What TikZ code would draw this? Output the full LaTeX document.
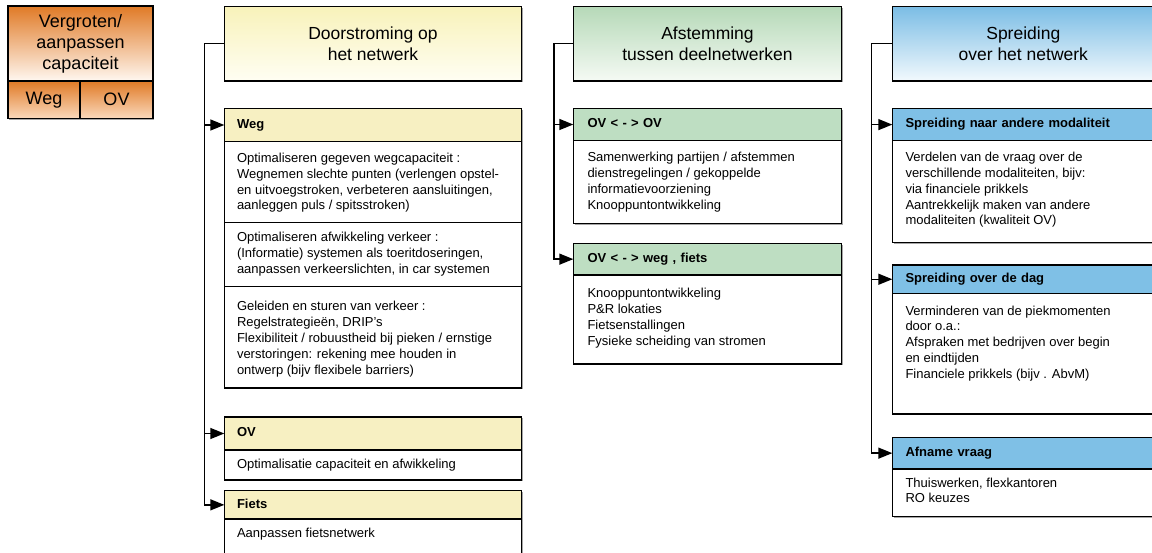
\documentclass[tikz,border=0pt]{standalone}
\usepackage{fontspec}
\setmainfont{Liberation Sans}
\usetikzlibrary{arrows.meta,shadows}
\definecolor{ylw}{HTML}{F7F0C2}
\definecolor{ylwtop}{HTML}{F8F2BA}
\definecolor{ylwbot}{HTML}{FFFEF3}
\definecolor{grn}{HTML}{BEDEC2}
\definecolor{grntop}{HTML}{B6D9B8}
\definecolor{grnbot}{HTML}{F5FAF4}
\definecolor{blu}{HTML}{7FC0E6}
\definecolor{blutop}{HTML}{7BBDE5}
\definecolor{blubot}{HTML}{F2F9FD}
\definecolor{orgtop}{HTML}{E07A26}
\definecolor{orgbot}{HTML}{FFF7F0}
\definecolor{orgcbot}{HTML}{FAD9BC}
\newcommand\mlines[1]{\vtop{\halign{##\hfil\cr#1\crcr}}}
\tikzset{
  frame/.style={draw=black, line width=1.3pt, rectangle, inner sep=0pt, outer sep=0pt,
    anchor=north west, drop shadow={shadow xshift=1.3pt, shadow yshift=-1.3pt, fill=black!35, opacity=1}},
  hdr/.style={frame, align=center, font=\fontsize{17.5}{21.5}\selectfont},
  bandbox/.style={frame, align=left, font=\fontsize{13}{15.8}\selectfont\bfseries,
    text height=9.5pt, text depth=2.7pt},
  c1band/.style={bandbox, fill=ylw, inner xsep=12.7pt, text width=272pt},
  c2band/.style={bandbox, fill=grn, inner xsep=14.2pt, text width=240pt},
  c3band/.style={bandbox, fill=blu, inner xsep=13.2pt, text width=235.6pt},
  sect/.style={frame, fill=white},
  txt/.style={font=\fontsize{13}{15.8}\selectfont, inner sep=0pt, outer sep=0pt, anchor=base west},
  conn/.style={line width=1.4pt, draw=black, -{Triangle[length=14pt,width=11pt,fill=black]}},
  ttl/.style={frame, align=center, font=\fontsize{18}{21}\selectfont}
}
\begin{document}
\begin{tikzpicture}[x=1pt,y=-1pt]
\useasboundingbox (0,0) rectangle (1152,553);

% title box
\node[ttl, top color=orgtop, bottom color=orgbot, minimum width=145pt, minimum height=75pt] (title) at (8,6) {Vergroten/\\aanpassen\\capaciteit};
\node[ttl, top color=orgtop, bottom color=orgcbot, minimum width=72pt, minimum height=37.5pt] (tweg) at (8,81) {Weg};
\node[ttl, top color=orgtop, bottom color=orgcbot, minimum width=73pt, minimum height=37.5pt] (tov) at (80,81) {OV};

% headers
\node[hdr, top color=ylwtop, bottom color=ylwbot, minimum width=297.4pt, minimum height=74.5pt] (h1) at (224.3,6.5) {Doorstroming op\\het netwerk};
\node[hdr, top color=grntop, bottom color=grnbot, minimum width=268.4pt, minimum height=74.5pt] (h2) at (573.3,6.5) {Afstemming\\tussen deelnetwerken};
\node[hdr, top color=blutop, bottom color=blubot, minimum width=262pt, minimum height=74.5pt] (h3) at (892.3,6.5) {Spreiding\\over het netwerk};

% column 1
\node[c1band, minimum height=33pt] (wegH) at (224.3,108.5) {Weg};
\node[sect, minimum width=297.4pt, minimum height=80.8pt] (wegA) at (224.3,141.5) {};
\node[sect, minimum width=297.4pt, minimum height=64.4pt] (wegB) at (224.3,222.3) {};
\node[sect, minimum width=297.4pt, minimum height=101.3pt] (wegC) at (224.3,286.7) {};
\node[txt] (wegAt) at (237,162.5) {\mlines{Optimaliseren gegeven wegcapaciteit :\cr
Wegnemen slechte punten (verlengen opstel-\cr
en uitvoegstroken, verbeteren aansluitingen,\cr
aanleggen puls / spitsstroken)}};
\node[txt] (wegBt) at (237,241.5) {\mlines{Optimaliseren afwikkeling verkeer :\cr
(Informatie) systemen als toeritdoseringen,\cr
aanpassen verkeerslichten, in car systemen}};
\node[txt] (wegCt) at (237,311) {\mlines{Geleiden en sturen van verkeer :\cr
Regelstrategieën, DRIP’s\cr
Flexibiliteit / robuustheid bij pieken / ernstige\cr
verstoringen: rekening mee houden in\cr
ontwerp (bijv flexibele barriers)}};

\node[c1band, minimum height=33pt] (ovH) at (224.3,417) {OV};
\node[sect, minimum width=297.4pt, minimum height=30pt] (ovA) at (224.3,450) {};
\node[txt] (ovAt) at (237,468.5) {Optimalisatie capaciteit en afwikkeling};

\node[c1band, minimum height=28.3pt] (fiH) at (224.3,490.7) {Fiets};
\node[sect, minimum width=297.4pt, minimum height=40pt] (fiA) at (224.3,519) {};
\node[txt] (fiAt) at (237,537.5) {Aanpassen fietsnetwerk};

% column 2
\node[c2band, minimum height=32pt] (ooH) at (573.3,108.5) {OV < - > OV};
\node[sect, minimum width=268.4pt, minimum height=82.8pt] (ooA) at (573.3,140.5) {};
\node[txt] (ooAt) at (587.5,161.8) {\mlines{Samenwerking partijen / afstemmen\cr
dienstregelingen / gekoppelde\cr
informatievoorziening\cr
Knooppuntontwikkeling}};

\node[c2band, minimum height=31.7pt] (owH) at (573.3,243.3) {OV < - > weg , fiets};
\node[sect, minimum width=268.4pt, minimum height=89pt] (owA) at (573.3,275) {};
\node[txt] (owAt) at (587.5,297.8) {\mlines{Knooppuntontwikkeling\cr
P\&R lokaties\cr
Fietsenstallingen\cr
Fysieke scheiding van stromen}};

% column 3
\node[c3band, minimum height=32.2pt] (s1H) at (892.3,108.5) {Spreiding naar andere modaliteit};
\node[sect, minimum width=262pt, minimum height=102pt] (s1A) at (892.3,140.7) {};
\node[txt] (s1At) at (905.5,161.8) {\mlines{Verdelen van de vraag over de\cr
verschillende modaliteiten, bijv:\cr
via financiele prikkels\cr
Aantrekkelijk maken van andere\cr
modaliteiten (kwaliteit OV)}};

\node[c3band, minimum height=28.5pt] (s2H) at (892.3,265) {Spreiding over de dag};
\node[sect, minimum width=262pt, minimum height=120.5pt] (s2A) at (892.3,293.5) {};
\node[txt] (s2At) at (905.5,315.2) {\mlines{Verminderen van de piekmomenten\cr
door o.a.:\cr
Afspraken met bedrijven over begin\cr
en eindtijden\cr
Financiele prikkels (bijv . AbvM)}};

\node[c3band, minimum height=31.7pt] (s3H) at (892.3,437.3) {Afname vraag};
\node[sect, minimum width=262pt, minimum height=47.7pt] (s3A) at (892.3,469) {};
\node[txt] (s3At) at (905.5,487) {\mlines{Thuiswerken, flexkantoren\cr
RO keuzes}};

% connectors
\draw[conn] (h1.west) -- ++(-20,0) |- (wegH.west);
\draw[conn] (h1.west) -- ++(-20,0) |- (ovH.west);
\draw[conn] (h1.west) -- ++(-20,0) |- (fiH.west);
\draw[conn] (h2.west) -- ++(-19.3,0) |- (ooH.west);
\draw[conn] (h2.west) -- ++(-19.3,0) |- (owH.west);
\draw[conn] (h3.west) -- ++(-20.6,0) |- (s1H.west);
\draw[conn] (h3.west) -- ++(-20.6,0) |- (s2H.west);
\draw[conn] (h3.west) -- ++(-20.6,0) |- (s3H.west);
\end{tikzpicture}
\end{document}
